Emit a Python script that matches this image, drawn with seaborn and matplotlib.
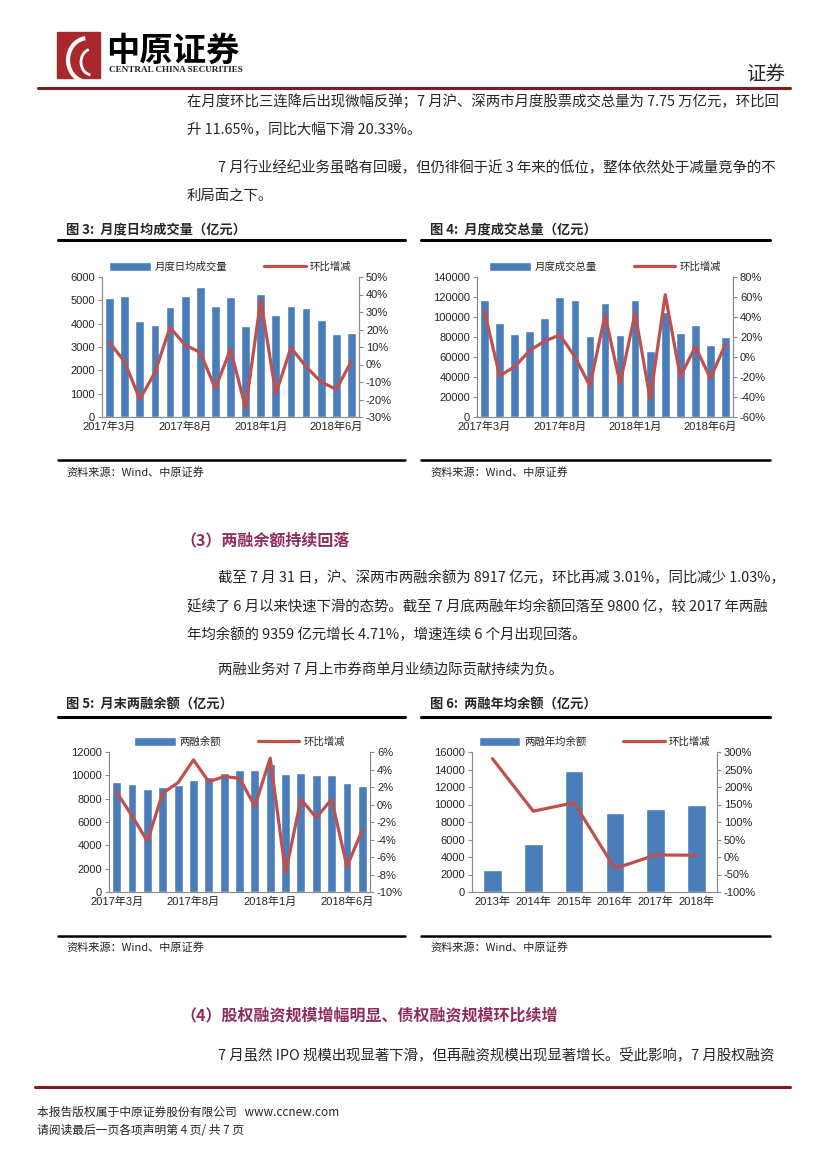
import numpy as np
import matplotlib.pyplot as plt
import matplotlib.patches as mpatches
from matplotlib.ticker import FuncFormatter, MultipleLocator
import seaborn as sns

# Données
months = ["2017年3月", "2017年4月", "2017年5月", "2017年6月", "2017年7月", "2017年8月",
          "2017年9月", "2017年10月", "2017年11月", "2017年12月", "2018年1月", "2018年2月",
          "2018年3月", "2018年4月", "2018年5月", "2018年6月", "2018年7月"]
daily_vol = [5110, 5180, 4120, 3930, 4730, 5200, 5560, 4740, 5150, 3880, 5280, 4370,
             4770, 4660, 4150, 3560, 3610]
daily_pct = [12.6, 1.5, -19.9, -4.6, 21.2, 11.1, 6.9, -13.8, 8.8, -24.9, 36.9, -16.7,
             9.6, -1.3, -10.0, -14.2, 1.9]
total_vol = [117500, 93800, 83100, 86400, 99500, 119600, 116700, 81400, 113600, 81700,
             116700, 66300, 104900, 84400, 91800, 71700, 79700]
total_pct = [45.6, -18.8, -9.7, 6.4, 16.0, 22.0, 0.3, -29.0, 42.0, -26.5, 43.9, -42.2,
             62.3, -19.8, 10.4, -21.4, 13.0]
margin_bal = [9400, 9260, 8830, 8970, 9170, 9600, 9860, 10170, 10450, 10430, 10940, 10110,
              10170, 10000, 10060, 9370, 9060]
margin_pct = [1.4, -1.3, -4.2, 1.3, 2.5, 5.1, 2.6, 3.2, 3.0, -0.2, 5.3, -7.8,
              0.6, -1.5, 0.6, -7.1, -2.9]
years = ["2013年", "2014年", "2015年", "2016年", "2017年", "2018年"]
year_bal = [2460, 5530, 13880, 9020, 9520, 9930]
year_pct = [281, 131, 155, -33, 6, 5]

BLUE = "#4A7EBB"
RED = "#C0504D"
MAROON = "#7F1D1D"
PURPLE = "#8E2C5E"

sns.set_style("white")
plt.rcParams["font.family"] = ["Noto Sans CJK SC", "DejaVu Sans"]
NUM_FONT = ["Liberation Sans", "Noto Sans CJK SC"]

W, H = 827, 1169
fig = plt.figure(figsize=(8.27, 11.69), dpi=100)


def px_axes(x0, y0, x1, y1):
    return fig.add_axes([x0 / W, 1 - y1 / H, (x1 - x0) / W, (y1 - y0) / H])


def txt(x, y, s, **kw):
    kw.setdefault("va", "center")
    fig.text(x / W, 1 - y / H, s, **kw)


def hline(x0, x1, y, color="black", lw=2.0):
    fig.add_artist(plt.Line2D([x0 / W, x1 / W], [1 - y / H, 1 - y / H],
                              color=color, linewidth=lw, transform=fig.transFigure))


def chart(box, cats, bars, pct, bar_label, ymax, ystep, rmin, rmax, rstep, every, width):
    ax = px_axes(*box)
    sns.barplot(x=cats, y=bars, color=BLUE, saturation=1, width=width, ax=ax, label=bar_label)
    ax2 = ax.twinx()
    sns.lineplot(x=np.arange(len(cats)), y=pct, color=RED, linewidth=2.3, ax=ax2, label="环比增减")
    n = len(cats)
    ax.set_xlim(-0.5, n - 0.5)
    ax.set_ylim(0, ymax)
    ax.yaxis.set_major_locator(MultipleLocator(ystep))
    ax2.set_ylim(rmin, rmax)
    ax2.yaxis.set_major_locator(MultipleLocator(rstep))
    ax2.yaxis.set_major_formatter(FuncFormatter(lambda v, p: f"{v:.0f}%"))
    ax.set_xticks(range(n))
    ax.set_xticklabels([c if i % every == 0 else "" for i, c in enumerate(cats)])
    for a in (ax, ax2):
        a.set_xlabel("")
        a.set_ylabel("")
        a.spines["top"].set_visible(False)
        for s in ("left", "right", "bottom"):
            a.spines[s].set_color("#8c8c8c")
            a.spines[s].set_linewidth(0.8)
        a.tick_params(axis="y", direction="out", length=3, color="#8c8c8c", labelsize=8, pad=2)
        for lab in a.get_yticklabels():
            lab.set_family(NUM_FONT)
    ax.tick_params(axis="x", length=0, labelsize=8, pad=3)
    for lab in ax.get_xticklabels():
        lab.set_family(NUM_FONT)
    h1, l1 = ax.get_legend_handles_labels()
    h2, l2 = ax2.get_legend_handles_labels()
    if ax2.get_legend():
        ax2.get_legend().remove()
    ax.legend(h1 + h2, l1 + l2, loc="lower center", bbox_to_anchor=(0.5, 1.0), ncol=2,
              frameon=False, fontsize=7.5, handlelength=4.0, handleheight=0.9,
              columnspacing=3.5, borderaxespad=0.1, handletextpad=0.4)
    return ax, ax2


# En-tête
fig.add_artist(mpatches.Rectangle((57 / W, 1 - 78 / H), 43 / W, 46 / H,
                                  color="#A8282B", transform=fig.transFigure))
fig.add_artist(mpatches.Arc((88 / W, 1 - 60 / H), 40 / W, 44 / H, theta1=100, theta2=250,
                            color="white", linewidth=3, transform=fig.transFigure))
fig.add_artist(mpatches.Arc((92 / W, 1 - 62 / H), 22 / W, 26 / H, theta1=110, theta2=260,
                            color="white", linewidth=2, transform=fig.transFigure))
txt(106, 51, "中原证券", fontsize=24, fontweight="bold", color="black")
txt(109, 70, "CENTRAL CHINA SECURITIES", fontsize=6.6, fontweight="bold",
    family=["Liberation Serif"], color="#222222")
txt(785, 74, "证券", fontsize=14, ha="right")
hline(38, 790, 88, color=MAROON, lw=2.2)

# Texte du rapport
BODY = 10.4
txt(187, 101, "在月度环比三连降后出现微幅反弹；7 月沪、深两市月度股票成交总量为 7.75 万亿元，环比回", fontsize=BODY)
txt(187, 130, "升 11.65%，同比大幅下滑 20.33%。", fontsize=BODY)
txt(218, 168, "7 月行业经纪业务虽略有回暖，但仍徘徊于近 3 年来的低位，整体依然处于减量竞争的不", fontsize=BODY)
txt(187, 196, "利局面之下。", fontsize=BODY)

# Figures 3 et 4
txt(66, 229, "图 3:  月度日均成交量（亿元）", fontsize=9.5, fontweight="bold")
txt(430, 229, "图 4:  月度成交总量（亿元）", fontsize=9.5, fontweight="bold")
hline(58, 405, 240, lw=2.2)
hline(421, 770, 240, lw=2.2)
chart((102, 277, 359, 417), months, daily_vol, daily_pct, "月度日均成交量",
      6000, 1000, -30, 50, 10, 5, 0.58)
chart((477, 277, 733, 417), months, total_vol, total_pct, "月度成交总量",
      140000, 20000, -60, 80, 20, 5, 0.58)
hline(58, 405, 460, lw=1.8)
hline(421, 770, 460, lw=1.8)
txt(66, 472, "资料来源：Wind、中原证券", fontsize=8)
txt(430, 472, "资料来源：Wind、中原证券", fontsize=8)

# Section (3)
txt(180, 540, "（3）两融余额持续回落", fontsize=11.5, fontweight="bold", color=PURPLE)
txt(218, 578, "截至 7 月 31 日，沪、深两市两融余额为 8917 亿元，环比再减 3.01%，同比减少 1.03%，", fontsize=BODY)
txt(187, 607, "延续了 6 月以来快速下滑的态势。截至 7 月底两融年均余额回落至 9800 亿，较 2017 年两融", fontsize=BODY)
txt(187, 635, "年均余额的 9359 亿元增长 4.71%，增速连续 6 个月出现回落。", fontsize=BODY)
txt(218, 670, "两融业务对 7 月上市券商单月业绩边际贡献持续为负。", fontsize=BODY)

# Figures 5 et 6
txt(66, 705, "图 5:  月末两融余额（亿元）", fontsize=9.5, fontweight="bold")
txt(430, 705, "图 6:  两融年均余额（亿元）", fontsize=9.5, fontweight="bold")
hline(58, 405, 717, lw=2.2)
hline(421, 770, 717, lw=2.2)
chart((109, 752, 370, 892), months, margin_bal, margin_pct, "两融余额",
      12000, 2000, -10, 6, 2, 5, 0.58)
chart((472, 752, 717, 892), years, year_bal, year_pct, "两融年均余额",
      16000, 2000, -100, 300, 50, 1, 0.46)
hline(58, 405, 936, lw=1.8)
hline(421, 770, 936, lw=1.8)
txt(66, 947, "资料来源：Wind、中原证券", fontsize=8)
txt(430, 947, "资料来源：Wind、中原证券", fontsize=8)

# Section (4)
txt(180, 1015, "（4）股权融资规模增幅明显、债权融资规模环比续增", fontsize=11.5, fontweight="bold", color=PURPLE)
txt(218, 1055, "7 月虽然 IPO 规模出现显著下滑，但再融资规模出现显著增长。受此影响，7 月股权融资", fontsize=BODY)

# Pied de page
hline(35, 790, 1087, color=MAROON, lw=2.2)
txt(37, 1112, "本报告版权属于中原证券股份有限公司   www.ccnew.com", fontsize=8.5)
txt(37, 1131, "请阅读最后一页各项声明第 4 页/ 共 7 页", fontsize=8.5)

plt.savefig("out.png", dpi=100)
plt.close()
